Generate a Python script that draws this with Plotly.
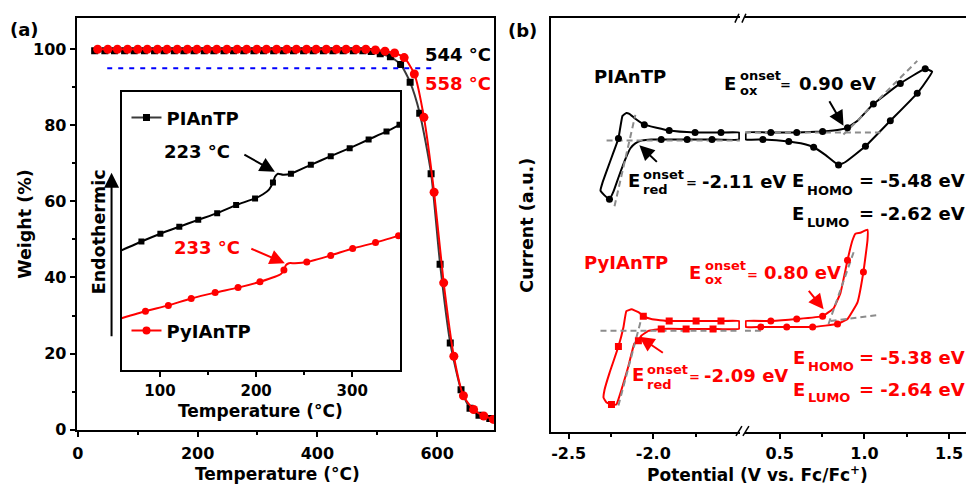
import plotly.graph_objects as go

W, H = 966, 495
FONT = "DejaVu Sans"


def px(x):
    return x / W


def py(y):
    return 1 - y / H


# ---------------- Panel (a): TGA ----------------
TGA_BLACK_T = [28, 45, 61, 78, 94, 111, 128, 144, 161, 177, 194, 211, 227, 244, 260, 277, 294, 310,
               327, 343, 360, 377, 393, 410, 426, 443, 460, 476, 490, 505, 522, 539, 555, 571, 590,
               605, 622, 640, 655, 670, 688]
TGA_BLACK_W = [99.6, 99.6, 99.6, 99.6, 99.6, 99.6, 99.6, 99.6, 99.6, 99.6, 99.6, 99.6, 99.6, 99.6,
               99.6, 99.6, 99.6, 99.6, 99.6, 99.6, 99.6, 99.6, 99.6, 99.6, 99.6, 99.6, 99.6, 99.6,
               99.4, 98.8, 98.0, 96.0, 91.3, 83.2, 67.3, 43.5, 22.8, 10.5, 5.6, 3.8, 2.9]
TGA_RED_T = [33, 50, 66, 83, 100, 116, 133, 149, 166, 183, 199, 216, 232, 249, 266, 282, 299, 315,
             332, 349, 365, 382, 398, 415, 432, 448, 465, 481, 497, 513, 529, 545, 562, 578, 595,
             611, 628, 644, 661, 678, 694]
TGA_RED_W = [100.0, 100.0, 100.0, 100.0, 100.0, 100.0, 100.0, 100.0, 100.0, 100.0, 100.0, 100.0,
             100.0, 100.0, 100.0, 100.0, 100.0, 100.0, 100.0, 100.0, 100.0, 100.0, 100.0, 100.0,
             100.0, 100.0, 100.0, 100.0, 99.8, 99.5, 99.0, 97.8, 93.5, 82.1, 62.4, 38.6, 19.3,
             8.9, 5.3, 3.6, 2.7]
T5_T = [49, 600]
T5_W = [95, 95]

A_XTICKS = [0, 200, 400, 600]
A_XMINOR = [100, 300, 500]
A_YTICKS = [0, 20, 40, 60, 80, 100]
A_YMINOR = [10, 30, 50, 70, 90]

# ---------------- Inset: DSC ----------------
DSC_BLACK_T = [60, 80.7, 100.4, 120.1, 139.8, 159.5, 179.2, 198.9, 207.2, 213.4, 217.5, 219.6, 222.7,
               227.9, 236.2, 256.9, 277.6, 297.3, 317.0, 335.6, 349.1]
DSC_BLACK_V = [43.1, 46.3, 49.1, 51.6, 54.1, 56.5, 59.4, 61.8, 63.3, 65.0, 67.5, 69.6, 70.7,
               70.3, 70.7, 73.9, 77.0, 79.9, 83.0, 85.9, 88.3]
DSC_BLACK_MT = [80.7, 100.4, 120.1, 139.8, 159.5, 179.2, 198.9, 217.5, 236.2, 256.9, 277.6, 297.3,
                317.0, 335.6, 349.1]
DSC_BLACK_MV = [46.3, 49.1, 51.6, 54.1, 56.5, 59.4, 61.8, 67.5, 70.7, 73.9, 77.0, 79.9, 83.0, 85.9,
                88.3]
DSC_RED_T = [60, 84.9, 108.7, 132.5, 157.4, 181.2, 204.0, 219.6, 225.8, 228.9, 231.0, 234.1, 240.3,
             252.7, 277.6, 300.4, 324.2, 348.1]
DSC_RED_V = [18.7, 21.2, 23.3, 25.8, 27.9, 29.7, 31.8, 33.6, 34.6, 36.0, 37.8, 38.5, 38.5,
             38.9, 41.3, 43.8, 45.9, 48.4]
DSC_RED_MT = [84.9, 108.7, 132.5, 157.4, 181.2, 204.0, 228.9, 252.7, 277.6, 300.4, 324.2, 348.1]
DSC_RED_MV = [21.2, 23.3, 25.8, 27.9, 29.7, 31.8, 36.0, 38.9, 41.3, 43.8, 45.9, 48.4]

I_XTICKS = [100, 200, 300]
I_XMINOR = [150, 250]

# ---------------- Panel (b): CV ----------------
BK_L_V = [-1.494, -1.600, -1.753, -1.906, -2.053, -2.106, -2.141, -2.159, -2.182, -2.206, -2.235,
          -2.271, -2.300, -2.312, -2.288, -2.259, -2.235, -2.200, -2.165, -2.135, -2.106, -2.065,
          -2.012, -1.953, -1.800, -1.653, -1.494, -1.494]
BK_L_I = [30.5, 30.5, 30.5, 30.7, 31.3, 31.9, 32.4, 32.5, 32.2, 29.9, 28.5, 26.8, 25.4, 24.6, 24.1,
          23.7, 24.5, 26.2, 27.8, 28.9, 29.4, 29.7, 29.8, 29.8, 29.8, 29.8, 29.8, 30.5]
BK_L_MV = [-1.600, -1.753, -1.906, -2.053, -2.206, -2.259, -1.953, -1.800, -1.653]
BK_L_MI = [30.5, 30.5, 30.7, 31.3, 29.9, 23.7, 29.8, 29.8, 29.8]

BK_R_V = [0.300, 0.447, 0.600, 0.753, 0.859, 0.900, 0.959, 1.053, 1.212, 1.359, 1.400, 1.376, 1.312,
          1.153, 1.006, 0.888, 0.847, 0.771, 0.700, 0.624, 0.553, 0.400, 0.300, 0.300]
BK_R_I = [30.5, 30.5, 30.5, 30.6, 30.8, 31.0, 31.7, 33.4, 35.5, 37.0, 36.7, 36.0, 34.5, 31.7, 29.1,
          27.5, 27.2, 28.2, 29.0, 29.4, 29.6, 29.8, 29.8, 30.5]
BK_R_MV = [0.447, 0.600, 0.753, 0.900, 1.053, 1.212, 1.359, 1.312, 1.153, 1.006, 0.847, 0.700,
           0.553, 0.400]
BK_R_MI = [30.5, 30.5, 30.6, 31.0, 33.4, 35.5, 37.0, 34.5, 31.7, 29.1, 27.2, 29.0, 29.6, 29.8]

RD_L_V = [-1.494, -1.600, -1.747, -1.906, -2.012, -2.059, -2.088, -2.129, -2.159, -2.176, -2.206,
          -2.259, -2.288, -2.294, -2.276, -2.247, -2.218, -2.188, -2.147, -2.112, -2.088, -2.071,
          -2.029, -1.953, -1.806, -1.647, -1.494, -1.494]
RD_L_I = [11.3, 11.3, 11.3, 11.3, 11.5, 11.8, 12.2, 12.5, 12.3, 10.7, 8.7, 6.0, 4.3, 3.5, 3.0, 2.8,
          2.8, 4.3, 6.7, 9.0, 9.3, 9.8, 10.3, 10.5, 10.5, 10.5, 10.5, 11.3]
RD_L_MV = [-1.600, -1.747, -1.906, -2.059, -2.206, -2.247, -2.088, -1.953, -1.806, -1.647]
RD_L_MI = [11.3, 11.3, 11.3, 11.8, 8.7, 2.8, 9.3, 10.5, 10.5, 10.5]

RD_R_V = [0.300, 0.447, 0.600, 0.753, 0.818, 0.859, 0.900, 0.929, 0.947, 0.976, 1.018, 1.018, 0.994,
          0.959, 0.900, 0.841, 0.694, 0.541, 0.388, 0.300, 0.300]
RD_R_I = [11.3, 11.3, 11.5, 11.8, 12.6, 14.2, 17.5, 19.5, 20.2, 20.3, 20.6, 19.5, 16.3, 13.2, 11.5,
          11.0, 10.7, 10.7, 10.7, 10.7, 11.3]
RD_R_MV = [0.447, 0.600, 0.753, 0.900, 0.994, 0.841, 0.694, 0.541, 0.388]
RD_R_MI = [11.3, 11.5, 11.8, 17.5, 16.3, 11.0, 10.7, 10.7, 10.7]

# onset construction lines (gray dashed)
GUIDES_LEFT = [
    ([-2.276, -1.488], [29.7, 29.7]),
    ([-2.229, -2.106], [23.0, 32.3]),
    ([-2.312, -1.488], [10.3, 10.3]),
    ([-2.206, -2.071], [2.7, 11.5]),
]
GUIDES_RIGHT = [
    ([0.294, 1.094], [30.5, 30.5]),
    ([0.876, 1.312], [30.3, 37.8]),
    ([0.294, 0.388], [10.3, 10.3]),
    ([0.800, 1.076], [11.3, 11.9]),
    ([0.788, 0.940], [11.0, 18.5]),
]

B_LTICKS = [-2.5, -2.0]
B_LTEXT = ["-2.5", "-2.0"]
B_LMINOR = [-2.25, -1.75]
B_RTICKS = [0.5, 1.0, 1.5]
B_RTEXT = ["0.5", "1.0", "1.5"]
B_RMINOR = [0.75, 1.25]

BLACK = "#000000"
DGRAY = "#3a3a3a"
RED = "#ff0000"
GRAY = "#8c8c8c"

fig = go.Figure()

# TGA
fig.add_trace(go.Scatter(x=TGA_BLACK_T, y=TGA_BLACK_W, mode="lines+markers", line=dict(color=DGRAY, width=2, shape="spline", smoothing=0.6),
                         marker=dict(symbol="square", size=7, color=BLACK), showlegend=False, xaxis="x", yaxis="y"))
fig.add_trace(go.Scatter(x=TGA_RED_T, y=TGA_RED_W, mode="lines+markers", line=dict(color=RED, width=2, shape="spline", smoothing=0.6),
                         marker=dict(symbol="circle", size=9, color=RED), showlegend=False, xaxis="x", yaxis="y"))
fig.add_trace(go.Scatter(x=T5_T, y=T5_W, mode="lines", line=dict(color="#0000ff", width=2, dash="5px,6px"),
                         showlegend=False, xaxis="x", yaxis="y"))

# DSC inset
fig.add_trace(go.Scatter(x=DSC_BLACK_T, y=DSC_BLACK_V, mode="lines", line=dict(color=BLACK, width=2, shape="spline", smoothing=0.5),
                         showlegend=False, xaxis="x2", yaxis="y2"))
fig.add_trace(go.Scatter(x=DSC_BLACK_MT, y=DSC_BLACK_MV, mode="markers", marker=dict(symbol="square", size=6, color=BLACK),
                         showlegend=False, xaxis="x2", yaxis="y2"))
fig.add_trace(go.Scatter(x=DSC_RED_T, y=DSC_RED_V, mode="lines", line=dict(color=RED, width=2, shape="spline", smoothing=0.5),
                         showlegend=False, xaxis="x2", yaxis="y2"))
fig.add_trace(go.Scatter(x=DSC_RED_MT, y=DSC_RED_MV, mode="markers", marker=dict(symbol="circle", size=7, color=RED),
                         showlegend=False, xaxis="x2", yaxis="y2"))
# legend entries
fig.add_trace(go.Scatter(x=[None], y=[None], mode="lines+markers", name="PIAnTP", legend="legend",
                         line=dict(color=DGRAY, width=2), marker=dict(symbol="square", size=7, color=BLACK),
                         xaxis="x2", yaxis="y2"))
fig.add_trace(go.Scatter(x=[None], y=[None], mode="lines+markers", name="PyIAnTP", legend="legend2",
                         line=dict(color=RED, width=2), marker=dict(symbol="circle", size=8, color=RED),
                         xaxis="x2", yaxis="y2"))

# CV curves
for xs, ys, col, ax in [(BK_L_V, BK_L_I, BLACK, "x3"), (BK_R_V, BK_R_I, BLACK, "x4"),
                        (RD_L_V, RD_L_I, RED, "x3"), (RD_R_V, RD_R_I, RED, "x4")]:
    fig.add_trace(go.Scatter(x=xs, y=ys, mode="lines", line=dict(color=col, width=2, shape="spline", smoothing=0.3),
                             showlegend=False, xaxis=ax, yaxis="y3"))
for xs, ys in GUIDES_LEFT:
    fig.add_trace(go.Scatter(x=xs, y=ys, mode="lines", line=dict(color=GRAY, width=2, dash="6px,4px"),
                             showlegend=False, xaxis="x3", yaxis="y3"))
for xs, ys in GUIDES_RIGHT:
    fig.add_trace(go.Scatter(x=xs, y=ys, mode="lines", line=dict(color=GRAY, width=2, dash="6px,4px"),
                             showlegend=False, xaxis="x4", yaxis="y3"))
for xs, ys, col, sym, ax in [(BK_L_MV, BK_L_MI, BLACK, "circle", "x3"), (BK_R_MV, BK_R_MI, BLACK, "circle", "x4"),
                             (RD_L_MV, RD_L_MI, RED, "square", "x3"), (RD_R_MV, RD_R_MI, RED, "circle", "x4")]:
    fig.add_trace(go.Scatter(x=xs, y=ys, mode="markers", marker=dict(symbol=sym, size=7, color=col),
                             showlegend=False, xaxis=ax, yaxis="y3"))

tickfont = dict(family=FONT, size=16, color=BLACK, weight="bold")
axis_common = dict(showline=True, linewidth=2, linecolor=BLACK, showgrid=False, zeroline=False,
                   ticks="outside", ticklen=5, tickwidth=2, tickcolor=BLACK, tickfont=tickfont)
minor_style = dict(ticklen=3, tickwidth=1.5, ticks="outside", tickcolor=BLACK)

fig.update_layout(
    width=W, height=H, margin=dict(l=0, r=0, t=0, b=0), paper_bgcolor="white", plot_bgcolor="rgba(0,0,0,0)",
    xaxis=dict(domain=[px(73), px(492)], range=[-2, 695], anchor="y", mirror=True, tickvals=A_XTICKS,
               ticklabelstandoff=3, minor=dict(tickvals=A_XMINOR, **minor_style), **axis_common),
    yaxis=dict(domain=[py(438), py(18)], range=[-0.1, 108.3], anchor="x", mirror=True, tickvals=A_YTICKS,
               minor=dict(tickvals=A_YMINOR, **minor_style), **axis_common),
    xaxis2=dict(domain=[px(118), px(398)], range=[60, 350], anchor="y2", mirror=True, tickvals=I_XTICKS,
                ticklabelstandoff=1, minor=dict(tickvals=I_XMINOR, **minor_style),
                **{**axis_common, "tickfont": dict(family=FONT, size=15, color=BLACK, weight="bold")}),
    yaxis2=dict(domain=[py(377), py(94)], range=[0, 100], anchor="x2", mirror=True, showline=True, linewidth=2,
                linecolor=BLACK, showgrid=False, zeroline=False, ticks="", showticklabels=False),
    xaxis3=dict(domain=[px(549), px(739)], range=[-2.606, -1.488], anchor="y3", mirror=True, tickvals=B_LTICKS,
                ticktext=B_LTEXT, ticklabelstandoff=1,
                minor=dict(tickvals=B_LMINOR, **minor_style), **axis_common),
    xaxis4=dict(domain=[px(744), 1.0], range=[0.294, 1.6], anchor="y3", mirror=True, tickvals=B_RTICKS,
                ticktext=B_RTEXT, ticklabelstandoff=1,
                minor=dict(tickvals=B_RMINOR, **minor_style), **axis_common),
    yaxis3=dict(domain=[py(440), py(18)], range=[0, 42.2], anchor="x3", showline=True, linewidth=2, linecolor=BLACK,
                showgrid=False, zeroline=False, ticks="", showticklabels=False),
    legend=dict(x=px(123), y=py(120), xanchor="left", yanchor="middle", bgcolor="rgba(0,0,0,0)",
                font=dict(family=FONT, size=18, color=BLACK, weight="bold"), itemwidth=30),
    legend2=dict(x=px(123), y=py(337), xanchor="left", yanchor="middle", bgcolor="rgba(0,0,0,0)",
                 font=dict(family=FONT, size=18, color=BLACK, weight="bold"), itemwidth=30),
)


def txt(x, y, s, size=18, color=BLACK, xanchor="left", angle=0):
    return dict(x=px(x), y=py(y), xref="paper", yref="paper", text=s, showarrow=False,
                font=dict(family=FONT, size=size, color=color, weight="bold"),
                xanchor=xanchor, yanchor="middle", textangle=angle, borderpad=0)


def arrow(x0, y0, x1, y1, color=BLACK):
    return dict(x=px(x1), y=py(y1), xref="paper", yref="paper", ax=x0 - x1, ay=y0 - y1,
                axref="pixel", ayref="pixel", showarrow=True, arrowhead=2, arrowsize=1.5,
                arrowwidth=2, arrowcolor=color, text="", standoff=0)


ann = [
    txt(21, 30, "(a)", xanchor="center"),
    txt(521, 31, "(b)", xanchor="center"),
    txt(21, 228, "Weight (%)", size=17.5, xanchor="center", angle=-90),
    txt(275, 483, "Temperature (°C)", size=17, xanchor="center"),
    txt(258, 419, "Temperature (°C)", size=17, xanchor="center"),
    txt(95, 236, "Endothermic", size=17.5, xanchor="center", angle=-90),
    arrow(108, 341, 108, 176),
    txt(422, 55, "544 °C"),
    txt(422, 85, "558 °C", color=RED),
    txt(160, 154, "223 °C"),
    arrow(240, 157, 272, 175),
    txt(170, 252, "233 °C", color=RED),
    arrow(247, 253, 282, 268, RED),
    txt(525, 229, "Current (a.u.)", size=17.5, xanchor="center", angle=-90),
    txt(757, 483, "Potential (V vs. Fc/Fc<sup>+</sup>)", size=17, xanchor="center"),
    # black labels
    txt(629, 78, "PIAnTP", xanchor="center"),
    txt(722, 85, "E"), txt(738, 77, "onset", 13), txt(738, 92, "ox", 13),
    txt(785, 86, "=", 13, xanchor="center"), txt(797, 85, "0.90 eV"),
    arrow(828, 102, 843, 128),
    txt(626, 184, "E"), txt(641, 178, "onset", 13), txt(641, 193, "red", 13),
    txt(690, 186, "=", 13, xanchor="center"), txt(700, 185, "-2.11 eV"),
    arrow(657, 166, 638, 148),
    txt(790, 184, "E"), txt(805, 194, "HOMO", 13), txt(858, 184, "= -5.48 eV"),
    txt(790, 217, "E"), txt(805, 227, "LUMO", 13), txt(858, 217, "= -2.62 eV"),
    # red labels
    txt(625, 267, "PyIAnTP", color=RED, xanchor="center"),
    txt(687, 278, "E", color=RED), txt(703, 270, "onset", 13, RED), txt(703, 285, "ox", 13, RED),
    txt(752, 280, "=", 13, RED, xanchor="center"), txt(762, 278, "0.80 eV", color=RED),
    arrow(807, 295, 823, 315, RED),
    txt(630, 381, "E", color=RED), txt(645, 376, "onset", 13, RED), txt(645, 392, "red", 13, RED),
    txt(693, 383, "=", 13, RED, xanchor="center"), txt(702, 382, "-2.09 eV", color=RED),
    arrow(663, 360, 638, 343, RED),
    txt(791, 364, "E", color=RED), txt(806, 373, "HOMO", 13, RED), txt(858, 364, "= -5.38 eV", color=RED),
    txt(791, 397, "E", color=RED), txt(806, 405, "LUMO", 13, RED), txt(858, 397, "= -2.64 eV", color=RED),
]
fig.update_layout(annotations=ann)

shapes = []
for (x0, y0, x1, y1) in [(735, 444, 741, 434), (742, 444, 748, 434), (734, 23, 738, 14), (741, 23, 745, 14)]:
    shapes.append(dict(type="line", xref="paper", yref="paper", x0=px(x0), y0=py(y0), x1=px(x1), y1=py(y1),
                       line=dict(color=BLACK, width=1.5)))
fig.update_layout(shapes=shapes)

fig.write_html("out.html")
